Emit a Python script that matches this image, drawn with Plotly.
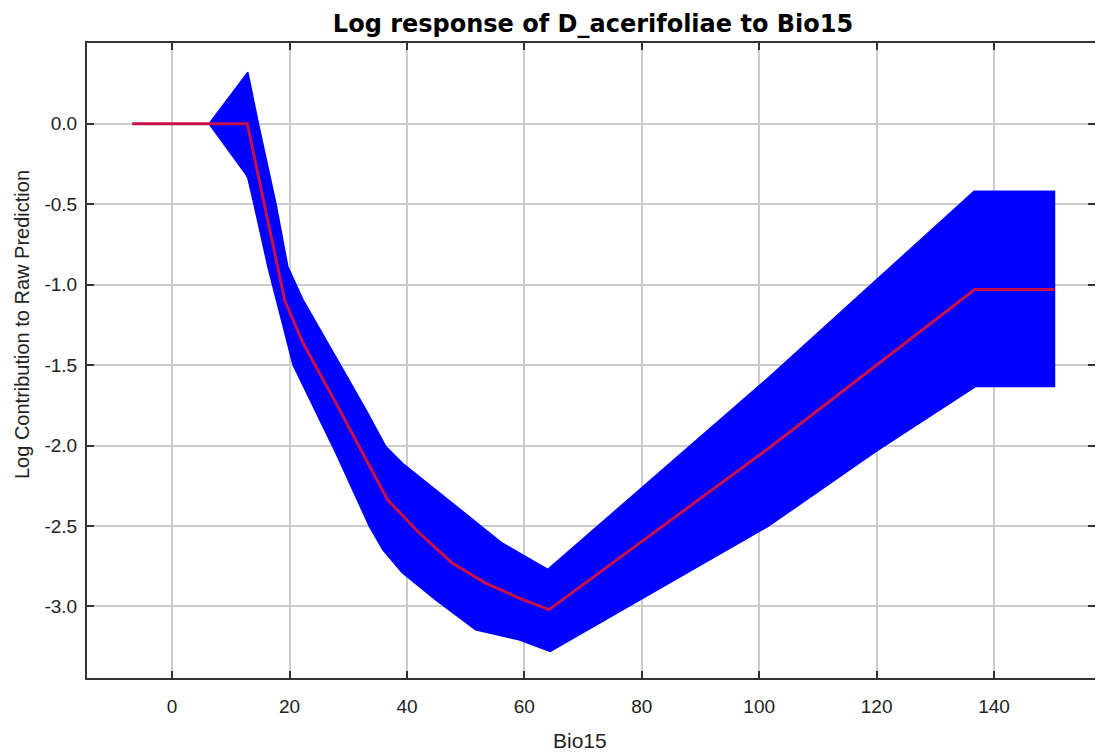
import plotly.graph_objects as go

# mean response (red line)
mean_x = [-6.8, 12.8, 19.2, 22.3, 27.9, 33.0, 36.7, 42.1, 47.7, 53.4, 59.1, 64.2, 101.5, 136.7, 150.3]
mean_y = [0.0, 0.0, -1.10, -1.363, -1.736, -2.09, -2.337, -2.544, -2.73, -2.855, -2.948, -3.02, -2.02, -1.03, -1.03]

# upper envelope of the blue band
upper_x = [6.3, 12.9, 14.7, 17.7, 19.7, 22.3, 28.8, 33.0, 36.4, 39.2, 44.9, 50.6, 56.2, 64.0, 101.5, 136.6, 150.3]
upper_y = [0.0, 0.32, 0.0, -0.50, -0.887, -1.094, -1.508, -1.777, -2.006, -2.109, -2.275, -2.44, -2.606, -2.77, -1.58, -0.42, -0.42]

# lower envelope of the blue band
lower_x = [6.3, 12.4, 12.9, 13.9, 16.3, 17.7, 20.6, 27.9, 33.6, 35.9, 39.2, 44.9, 51.7, 59.1, 64.4, 101.5, 119.9, 136.9, 150.3]
lower_y = [0.0, -0.306, -0.337, -0.493, -0.887, -1.094, -1.5, -2.047, -2.503, -2.648, -2.79, -2.96, -3.145, -3.207, -3.28, -2.503, -2.037, -1.633, -1.633]

x_ticks = [0, 20, 40, 60, 80, 100, 120, 140]
x_tick_labels = ["0", "20", "40", "60", "80", "100", "120", "140"]
y_ticks = [0.0, -0.5, -1.0, -1.5, -2.0, -2.5, -3.0]
y_tick_labels = ["0.0", "-0.5", "-1.0", "-1.5", "-2.0", "-2.5", "-3.0"]

band_x = upper_x + lower_x[::-1]
band_y = upper_y + lower_y[::-1]

fig = go.Figure()
fig.add_trace(go.Scatter(x=band_x, y=band_y, fill="toself", fillcolor="#0000ff",
                         line=dict(color="#0000ff", width=1.5),
                         mode="lines", hoverinfo="skip", showlegend=False))
fig.add_trace(go.Scatter(x=mean_x, y=mean_y, mode="lines",
                         line=dict(color="#c8104a", width=3), showlegend=False))

tickfont = dict(family="Liberation Sans, Arial, sans-serif", size=19, color="#222222")
axis_common = dict(showline=True, linecolor="#333333", linewidth=2, mirror="ticks",
                   ticks="inside", ticklen=7, tickwidth=2, tickcolor="#333333",
                   showgrid=True, gridcolor="#cccccc", gridwidth=2, zeroline=False,
                   tickfont=tickfont)

fig.update_layout(
    width=1095, height=746,
    margin=dict(l=79, r=6, t=35, b=76),
    paper_bgcolor="white", plot_bgcolor="white",
    title=dict(text="<b>Log response of D_acerifoliae to Bio15</b>",
               x=0.502, xref="paper", xanchor="center", y=0.979, yanchor="middle",
               font=dict(family="DejaVu Sans, sans-serif", size=24, color="black")),
    xaxis=dict(range=[-14.5, 157.2], tickvals=x_ticks, ticktext=x_tick_labels,
               ticklabelstandoff=10, **axis_common),
    yaxis=dict(range=[-3.445, 0.502], tickvals=y_ticks, ticktext=y_tick_labels,
               ticklabelstandoff=4, **axis_common),
    annotations=[
        dict(text="Bio15", xref="paper", yref="paper", x=0.489, y=-0.098,
             xanchor="center", yanchor="middle", showarrow=False,
             font=dict(family="Liberation Sans, Arial, sans-serif", size=21, color="#222222")),
        dict(text="Log Contribution to Raw Prediction", xref="paper", yref="paper",
             x=-0.0644, y=0.556, xanchor="center", yanchor="middle", textangle=-90,
             showarrow=False,
             font=dict(family="Liberation Sans, Arial, sans-serif", size=20, color="#222222")),
    ],
)

fig.write_html("out.html")
